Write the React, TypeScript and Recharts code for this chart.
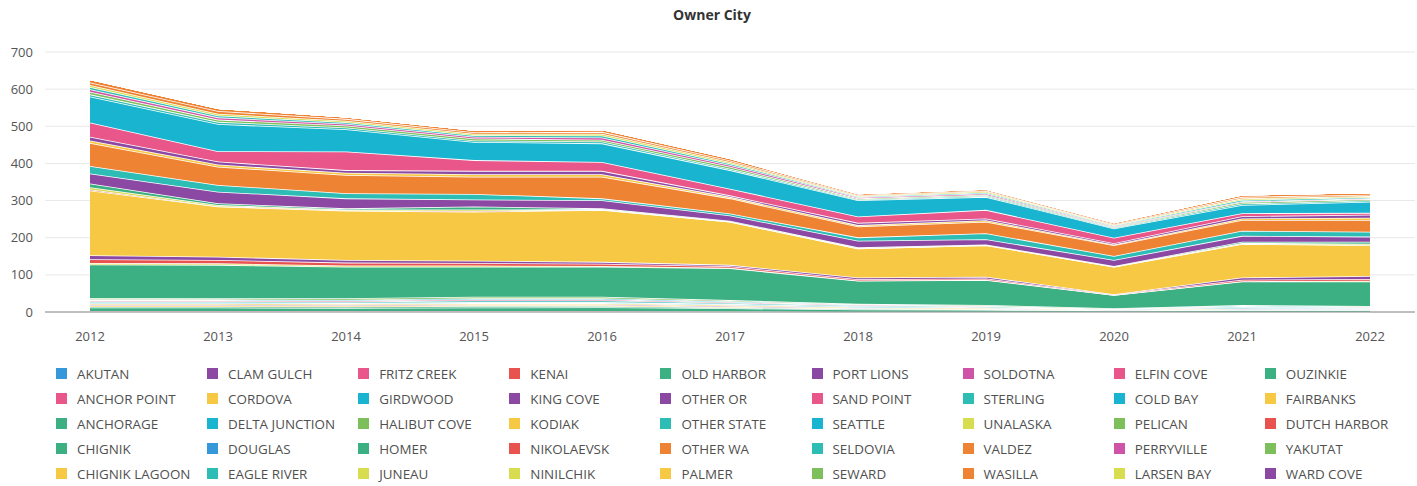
import React from 'react';
import { AreaChart, Area, XAxis, YAxis, CartesianGrid, Legend } from 'recharts';

const YEARS = ['2012', '2013', '2014', '2015', '2016', '2017', '2018', '2019', '2020', '2021', '2022'];
const Y_TICKS = [0, 100, 200, 300, 400, 500, 600, 700];

// Series values, 2012..2022 (stacked bottom to top in this order)
const AKUTAN = [1, 1, 1, 1, 1, 0, 0, 0, 0, 0, 0];
const ANCHOR_POINT = [2, 2, 2, 2, 2, 2, 1, 1, 1, 1, 1];
const ANCHORAGE = [9, 9, 8, 9, 10, 8, 6, 5, 3, 4, 4];
const CHIGNIK = [3, 3, 3, 4, 3, 2, 2, 1, 1, 1, 1];
const CHIGNIK_LAGOON = [3, 3, 3, 3, 3, 2, 1, 1, 0, 1, 1];
const CLAM_GULCH = [2, 2, 2, 2, 2, 2, 1, 1, 1, 1, 1];
const CORDOVA = [3, 3, 3, 3, 3, 3, 2, 2, 1, 2, 1];
const DELTA_JUNCTION = [2, 2, 2, 2, 2, 2, 2, 2, 1, 3, 2];
const DOUGLAS = [1, 1, 1, 1, 1, 1, 1, 0, 0, 0, 0];
const EAGLE_RIVER = [3, 3, 3, 4, 4, 3, 2, 2, 1, 2, 2];
const FRITZ_CREEK = [3, 3, 3, 3, 3, 2, 2, 1, 0, 1, 1];
const GIRDWOOD = [2, 2, 2, 3, 3, 2, 1, 1, 0, 2, 1];
const HALIBUT_COVE = [4, 3, 4, 4, 4, 3, 1, 2, 1, 1, 1];
const HOMER = [90, 90, 85, 81, 81, 86, 62, 67, 36, 63, 66];
const JUNEAU = [4, 4, 3, 3, 2, 1, 1, 1, 0, 1, 2];
const KENAI = [10, 9, 8, 7, 6, 4, 3, 3, 1, 4, 5];
const KING_COVE = [11, 9, 7, 6, 5, 4, 5, 5, 1, 6, 8];
const KODIAK = [174, 135, 133, 132, 140, 116, 78, 85, 74, 90, 83];
const NIKOLAEVSK = [3, 1, 1, 2, 1, 0, 0, 0, 0, 1, 1];
const NINILCHIK = [6, 3, 2, 4, 1, 1, 1, 1, 1, 2, 3];
const OLD_HARBOR = [10, 5, 3, 8, 2, 2, 2, 1, 1, 3, 5];
const OTHER_OR = [27, 31, 27, 19, 22, 14, 18, 14, 16, 16, 14];
const OTHER_STATE = [20, 18, 14, 15, 5, 5, 9, 16, 11, 14, 13];
const OTHER_WA = [62, 49, 49, 46, 58, 41, 29, 31, 29, 29, 32];
const PALMER = [7, 6, 6, 7, 7, 4, 4, 4, 2, 4, 6];
const PORT_LIONS = [10, 8, 7, 9, 9, 4, 6, 5, 3, 6, 8];
const SAND_POINT = [38, 28, 50, 29, 24, 18, 17, 23, 15, 8, 5];
const SEATTLE = [70, 73, 60, 49, 50, 50, 44, 35, 25, 22, 30];
const SELDOVIA = [6, 6, 5, 4, 5, 4, 2, 3, 2, 4, 3];
const SEWARD = [7, 6, 5, 5, 5, 5, 3, 3, 2, 4, 4];
const SOLDOTNA = [7, 6, 5, 5, 6, 5, 3, 3, 2, 2, 2];
const STERLING = [6, 5, 4, 4, 5, 4, 2, 3, 2, 4, 3];
const UNALASKA = [5, 5, 4, 4, 5, 4, 2, 3, 2, 4, 3];
const VALDEZ = [7, 7, 5, 4, 5, 4, 2, 2, 2, 4, 4];
const WASILLA = [9, 8, 6, 6, 7, 6, 4, 4, 4, 6, 6];
const ELFIN_COVE = [0, 0, 0, 0, 0, 0, 0, 0, 0, 0, 0];
const COLD_BAY = [0, 0, 0, 0, 0, 0, 0, 0, 0, 0, 0];
const PELICAN = [0, 0, 0, 0, 0, 0, 0, 0, 0, 0, 0];
const PERRYVILLE = [0, 0, 0, 0, 0, 0, 0, 0, 0, 0, 0];
const LARSEN_BAY = [0, 0, 0, 0, 0, 0, 0, 0, 0, 0, 0];
const OUZINKIE = [0, 0, 0, 0, 0, 0, 0, 0, 0, 0, 0];
const FAIRBANKS = [0, 0, 0, 0, 0, 0, 0, 0, 0, 0, 0];
const DUTCH_HARBOR = [0, 0, 0, 0, 0, 0, 0, 0, 0, 0, 0];
const YAKUTAT = [0, 0, 0, 0, 0, 0, 0, 0, 0, 0, 0];
const WARD_COVE = [0, 0, 0, 0, 0, 0, 0, 0, 0, 0, 0];

const C_BLUE = '#3498db';
const C_PINK = '#e8568a';
const C_GREEN = '#3cb083';
const C_YELLOW = '#f7c843';
const C_PURPLE = '#8b49a3';
const C_CYAN = '#19b5d0';
const C_TEAL = '#2dbdb5';
const C_LGREEN = '#7dbf5b';
const C_YGREEN = '#d8dd4f';
const C_RED = '#e8524f';
const C_ORANGE = '#ef8334';
const C_MAGENTA = '#cf54a8';

const SERIES = [
  { name: 'AKUTAN', values: AKUTAN, color: C_BLUE },
  { name: 'ANCHOR POINT', values: ANCHOR_POINT, color: C_PINK },
  { name: 'ANCHORAGE', values: ANCHORAGE, color: C_GREEN },
  { name: 'CHIGNIK', values: CHIGNIK, color: C_GREEN },
  { name: 'CHIGNIK LAGOON', values: CHIGNIK_LAGOON, color: C_YELLOW },
  { name: 'CLAM GULCH', values: CLAM_GULCH, color: C_PURPLE },
  { name: 'CORDOVA', values: CORDOVA, color: C_YELLOW },
  { name: 'DELTA JUNCTION', values: DELTA_JUNCTION, color: C_CYAN },
  { name: 'DOUGLAS', values: DOUGLAS, color: C_BLUE },
  { name: 'EAGLE RIVER', values: EAGLE_RIVER, color: C_TEAL },
  { name: 'FRITZ CREEK', values: FRITZ_CREEK, color: C_PINK },
  { name: 'GIRDWOOD', values: GIRDWOOD, color: C_CYAN },
  { name: 'HALIBUT COVE', values: HALIBUT_COVE, color: C_LGREEN },
  { name: 'HOMER', values: HOMER, color: C_GREEN },
  { name: 'JUNEAU', values: JUNEAU, color: C_YGREEN },
  { name: 'KENAI', values: KENAI, color: C_RED },
  { name: 'KING COVE', values: KING_COVE, color: C_PURPLE },
  { name: 'KODIAK', values: KODIAK, color: C_YELLOW },
  { name: 'NIKOLAEVSK', values: NIKOLAEVSK, color: C_RED },
  { name: 'NINILCHIK', values: NINILCHIK, color: C_YGREEN },
  { name: 'OLD HARBOR', values: OLD_HARBOR, color: C_GREEN },
  { name: 'OTHER OR', values: OTHER_OR, color: C_PURPLE },
  { name: 'OTHER STATE', values: OTHER_STATE, color: C_TEAL },
  { name: 'OTHER WA', values: OTHER_WA, color: C_ORANGE },
  { name: 'PALMER', values: PALMER, color: C_YELLOW },
  { name: 'PORT LIONS', values: PORT_LIONS, color: C_PURPLE },
  { name: 'SAND POINT', values: SAND_POINT, color: C_PINK },
  { name: 'SEATTLE', values: SEATTLE, color: C_CYAN },
  { name: 'SELDOVIA', values: SELDOVIA, color: C_TEAL },
  { name: 'SEWARD', values: SEWARD, color: C_LGREEN },
  { name: 'SOLDOTNA', values: SOLDOTNA, color: C_MAGENTA },
  { name: 'STERLING', values: STERLING, color: C_TEAL },
  { name: 'UNALASKA', values: UNALASKA, color: C_YGREEN },
  { name: 'VALDEZ', values: VALDEZ, color: C_ORANGE },
  { name: 'WASILLA', values: WASILLA, color: C_ORANGE },
  { name: 'ELFIN COVE', values: ELFIN_COVE, color: C_PINK },
  { name: 'COLD BAY', values: COLD_BAY, color: C_CYAN },
  { name: 'PELICAN', values: PELICAN, color: C_LGREEN },
  { name: 'PERRYVILLE', values: PERRYVILLE, color: C_MAGENTA },
  { name: 'LARSEN BAY', values: LARSEN_BAY, color: C_YGREEN },
  { name: 'OUZINKIE', values: OUZINKIE, color: C_GREEN },
  { name: 'FAIRBANKS', values: FAIRBANKS, color: C_YELLOW },
  { name: 'DUTCH HARBOR', values: DUTCH_HARBOR, color: C_RED },
  { name: 'YAKUTAT', values: YAKUTAT, color: C_LGREEN },
  { name: 'WARD COVE', values: WARD_COVE, color: C_PURPLE },
];

const DATA = YEARS.map((year, i) => {
  const row: Record<string, string | number> = { year };
  SERIES.forEach((s) => {
    row[s.name] = s.values[i];
  });
  return row;
});

const FONT = '"Open Sans", "Noto Sans", sans-serif';

function GridLegend() {
  return (
    <div style={{ position: 'relative', width: 1417, height: 128 }}>
      {SERIES.map((s, k) => {
        const col = Math.floor(k / 5);
        const row = k % 5;
        return (
          <div
            key={s.name}
            style={{
              position: 'absolute',
              left: 56 + col * 151.1,
              top: 3 + row * 25,
              height: 25,
              display: 'flex',
              alignItems: 'center',
              whiteSpace: 'nowrap',
            }}
          >
            <span style={{ display: 'inline-block', width: 11, height: 11, background: s.color, marginRight: 10 }} />
            <span style={{ fontSize: 13.4, color: '#505050', fontFamily: FONT }}>{s.name}</span>
          </div>
        );
      })}
    </div>
  );
}

export default function App() {
  return (
    <div style={{ position: 'absolute', left: 0, top: 0, width: 1417, height: 486, background: '#fff', fontFamily: FONT }}>
      <div
        style={{
          position: 'absolute',
          left: 712,
          top: 5,
          transform: 'translateX(-50%)',
          fontSize: 14,
          fontWeight: 700,
          color: '#333',
          lineHeight: '20px',
          whiteSpace: 'nowrap',
        }}
      >
        Owner City
      </div>
      <AreaChart width={1417} height={486} data={DATA} margin={{ top: 52, right: 2, left: 0, bottom: 144 }}>
        <CartesianGrid vertical={false} stroke="#e8e8e8" />
        <XAxis
          dataKey="year"
          padding={{ left: 45, right: 45 }}
          height={30}
          tickLine={false}
          tickMargin={14}
          axisLine={{ stroke: '#8a8a8a' }}
          tick={{ fill: '#555', fontSize: 13 }}
        />
        <YAxis
          width={45}
          domain={[0, 700]}
          ticks={Y_TICKS}
          axisLine={false}
          tickLine={false}
          tickMargin={6}
          tick={{ fill: '#555', fontSize: 13 }}
        />
        <Legend
          layout="vertical"
          align="center"
          verticalAlign="middle"
          wrapperStyle={{ left: 0, top: 358, width: 1417, height: 128 }}
          content={() => <GridLegend />}
        />
        {SERIES.map((s) => (
          <Area
            key={s.name}
            type="linear"
            dataKey={s.name}
            name={s.name}
            stackId="1"
            fill={s.color}
            fillOpacity={1}
            stroke="#ffffff"
            strokeWidth={1.6}
            dot={false}
            activeDot={false}
            isAnimationActive={false}
          />
        ))}
      </AreaChart>
    </div>
  );
}
